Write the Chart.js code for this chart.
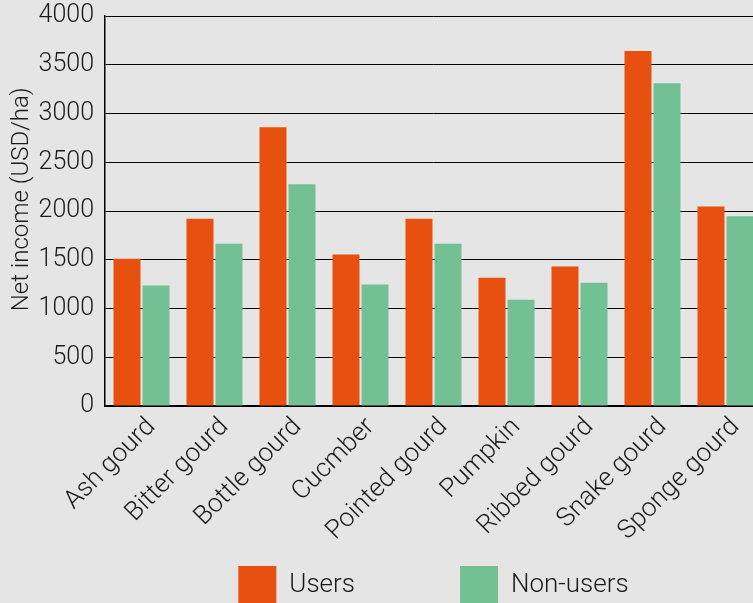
<!DOCTYPE html>
<html>
<head>
<meta charset="utf-8">
<script src="https://cdn.jsdelivr.net/npm/chart.js@4.4.1/dist/chart.umd.min.js"></script>
<style>
html,body{margin:0;padding:0;background:#e5e5e5;overflow:hidden;width:753px;height:603px;}
#wrap{position:absolute;left:0;top:0;width:800px;height:614px;}
</style>
</head>
<body>
<div id="wrap"><canvas id="c" width="800" height="614"></canvas></div>
<script>
const categories = ["Ash gourd","Bitter gourd","Bottle gourd","Cucmber","Pointed gourd","Pumpkin","Ribbed gourd","Snake gourd","Sponge gourd"];
const users = [1510, 1920, 2860, 1555, 1920, 1315, 1430, 3640, 2045];
const nonUsers = [1235, 1665, 2275, 1245, 1665, 1090, 1265, 3310, 1945];
const yTicks = [0,500,1000,1500,2000,2500,3000,3500,4000];
const seriesNames = ["Users","Non-users"];

const FONT = "Roboto, 'Liberation Sans', sans-serif";
const padLabel = (t, i) => i === 0 ? t + "               " : t;

new Chart(document.getElementById('c'), {
  type: 'bar',
  data: {
    labels: categories,
    datasets: [
      {label: seriesNames[0], data: users, backgroundColor: '#e8500f', borderWidth: 0},
      {label: seriesNames[1], data: nonUsers, backgroundColor: '#73c094', borderWidth: 0}
    ]
  },
  options: {
    responsive: false,
    animation: false,
    devicePixelRatio: 1,
    categoryPercentage: 0.795,
    barPercentage: 0.93,
    layout: {padding: {top: 16, right: 38, left: 0, bottom: 0}},
    plugins: {
      tooltip: {enabled: false},
      legend: {
        position: 'bottom',
        fullSize: false,
        labels: {
          boxWidth: 38, boxHeight: 38, padding: 10,
          color: '#1a1a1a',
          font: {family: FONT, size: 26, weight: '300'},
          generateLabels: (chart) => {
            const items = Chart.defaults.plugins.legend.labels.generateLabels(chart);
            items.forEach((it, i) => { it.text = padLabel(it.text, i); it.lineWidth = 0; });
            return items;
          }
        }
      }
    },
    scales: {
      x: {
        grid: {display: false, drawTicks: false},
        border: {display: true, color: '#000', width: 1.5},
        ticks: {
          color: '#1a1a1a', maxRotation: 45, minRotation: 45, padding: 6, labelOffset: 10,
          font: {family: FONT, size: 26, weight: '300'}
        },
        afterFit: (s) => { s.height = 150; s.paddingLeft = 0; s.paddingRight = 0; }
      },
      y: {
        min: 0, max: 4000,
        afterBuildTicks: (s) => { s.ticks = yTicks.map(v => ({value: v})); },
        grid: {color: '#000', lineWidth: 1, drawTicks: false},
        border: {display: true, color: '#000', width: 1.5},
        ticks: {
          color: '#1a1a1a', padding: 11,
          font: {family: FONT, size: 25, weight: '300'},
          callback: (v) => String(v)
        },
        title: {
          display: true, text: '    Net income (USD/ha)', color: '#1a1a1a',
          font: {family: FONT, size: 24, weight: '300'}, padding: {top: 8, bottom: 0}
        },
        afterFit: (s) => { s.width = 105; s.paddingTop = 0; s.paddingBottom = 0; }
      }
    }
  }
});
</script>
</body>
</html>
